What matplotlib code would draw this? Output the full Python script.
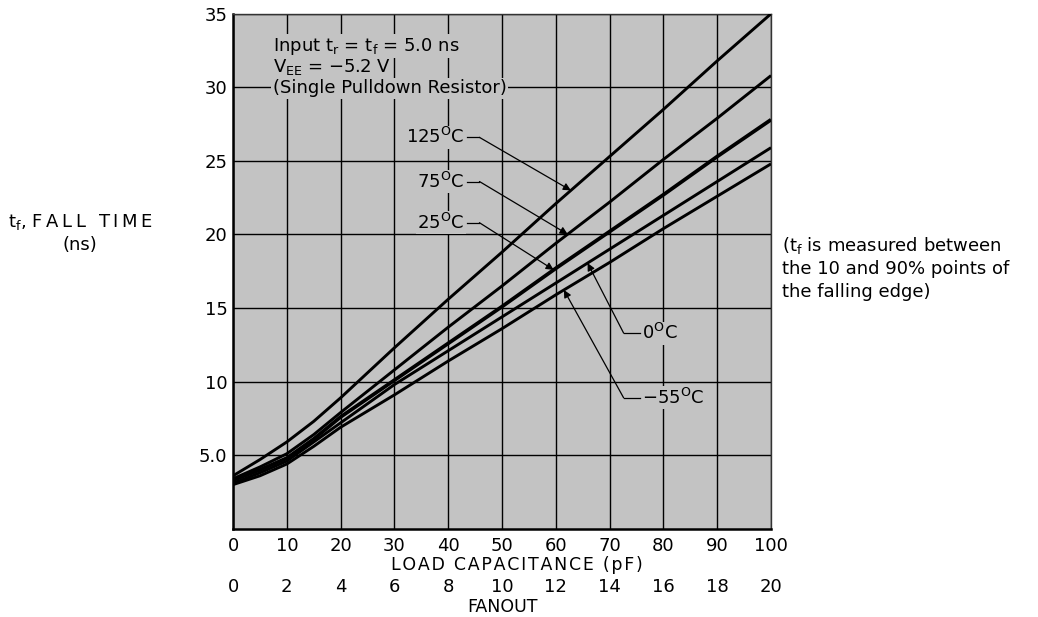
import numpy as np
import matplotlib
matplotlib.use("Agg")
import matplotlib.pyplot as plt

# load capacitance (pF) and fall time (ns) for each temperature
cap_pf = [0, 5, 10, 15, 20, 30, 40, 50, 60, 70, 80, 90, 100]
tf_125 = [3.6, 4.7, 5.9, 7.3, 8.9, 12.3, 15.6, 18.8, 22.1, 25.3, 28.5, 31.8, 35.0]
tf_75 = [3.4, 4.2, 5.1, 6.4, 7.9, 10.8, 13.7, 16.5, 19.4, 22.2, 25.1, 27.9, 30.8]
tf_25 = [3.3, 4.0, 4.8, 6.1, 7.6, 10.1, 12.6, 15.1, 17.7, 20.2, 22.7, 25.3, 27.8]
tf_0 = [3.1, 3.8, 4.6, 5.9, 7.2, 9.8, 12.1, 14.4, 16.7, 19.0, 21.3, 23.6, 25.9]
tf_m55 = [3.0, 3.6, 4.4, 5.6, 6.9, 9.1, 11.4, 13.6, 15.9, 18.1, 20.4, 22.6, 24.8]

x_ticks = [0, 10, 20, 30, 40, 50, 60, 70, 80, 90, 100]
y_ticks = [5, 10, 15, 20, 25, 30, 35]
y_tick_labels = ["5.0", "10", "15", "20", "25", "30", "35"]
fanout_ticks = [0, 2, 4, 6, 8, 10, 12, 14, 16, 18, 20]

BG = "#c3c3c3"
plt.rcParams["font.family"] = ["DejaVu Sans"]


def spaced(s, gap):
    # stretch a caption by putting a narrow space between its letters
    return gap.join(s)


fig = plt.figure(figsize=(10.38, 6.17), dpi=100)
ax = fig.add_axes([0.2245, 0.143, 0.5183, 0.8347])
ax.set_facecolor(BG)

ax.set_xlim(0, 100)
ax.set_ylim(0, 35)
ax.set_xticks(x_ticks)
ax.set_yticks(y_ticks)
ax.set_yticklabels(y_tick_labels)
ax.tick_params(length=0, labelsize=13, pad=4)
ax.tick_params(axis="x", pad=6)
ax.grid(True, color="black", lw=1.0)
ax.set_axisbelow(True)
for side in ["left", "bottom"]:
    ax.spines[side].set_linewidth(1.8)
for side in ["top", "right"]:
    ax.spines[side].set_linewidth(1.0)
    ax.spines[side].set_color("#333333")

# the curves
curves = [(tf_125, 2.1), (tf_75, 2.1), (tf_25, 2.7), (tf_0, 2.1), (tf_m55, 2.1)]
for ys, lw in curves:
    ax.plot(cap_pf, ys, color="black", lw=lw, solid_capstyle="butt", zorder=3)

label_box = dict(facecolor=BG, edgecolor="none", pad=1.0)

# conditions block in the upper left corner
ax.text(7.4, 32.8, r"Input t$_\mathregular{r}$ = t$_\mathregular{f}$ = 5.0 ns",
        fontsize=13, va="center", ha="left", bbox=label_box, zorder=4)
ax.text(7.4, 31.35, r"V$_\mathregular{EE}$ = $-$5.2 V",
        fontsize=13, va="center", ha="left", bbox=label_box, zorder=4)
ax.text(7.4, 29.95, "(Single Pulldown Resistor)",
        fontsize=13, va="center", ha="left", bbox=label_box, zorder=4)

arrow = dict(arrowstyle="-|>", color="black", lw=0.9, mutation_scale=11,
             shrinkA=0, shrinkB=0)


def temp_label(text, ys, label_y, tip_x, side):
    tip_y = np.interp(tip_x, cap_pf, ys)
    if side == "left":
        # text to the left, leader runs right then down to the curve
        ax.text(43.0, label_y, text, fontsize=13, ha="right", va="center",
                bbox=label_box, zorder=4)
        ax.plot([43.4, 45.8], [label_y, label_y], color="black", lw=0.9, zorder=4)
        ax.annotate("", xy=(tip_x, tip_y), xytext=(45.8, label_y),
                    arrowprops=arrow, zorder=4)
    else:
        # text to the right, leader runs left then up to the curve
        ax.text(76.0, label_y, text, fontsize=13, ha="left", va="center",
                bbox=label_box, zorder=4)
        ax.plot([72.6, 75.6], [label_y, label_y], color="black", lw=0.9, zorder=4)
        ax.annotate("", xy=(tip_x, tip_y), xytext=(72.6, label_y),
                    arrowprops=arrow, zorder=4)


temp_label(r"125$^\mathregular{O}$C", tf_125, 26.6, 62.8, "left")
temp_label(r"75$^\mathregular{O}$C", tf_75, 23.6, 62.2, "left")
temp_label(r"25$^\mathregular{O}$C", tf_25, 20.8, 59.6, "left")
temp_label(r"0$^\mathregular{O}$C", tf_0, 13.3, 65.9, "right")
temp_label(r"$-$55$^\mathregular{O}$C", tf_m55, 8.9, 61.5, "right")

# second scale for fanout (5 pF per load)
sec = ax.secondary_xaxis(-0.095, functions=(lambda c: c / 5.0, lambda f: f * 5.0))
sec.set_xticks(fanout_ticks)
sec.tick_params(length=0, labelsize=13, pad=0)
sec.spines["bottom"].set_visible(False)

ax.text(0.528, -0.07, spaced("LOAD CAPACITANCE (pF)", "\u200a"), transform=ax.transAxes,
        ha="center", va="center", fontsize=12.5)
ax.text(0.5, -0.152, "FANOUT", transform=ax.transAxes,
        ha="center", va="center", fontsize=12.5)

fig.text(80 / 1038, 1 - 222 / 617,
         r"t$_\mathregular{f}$, " + spaced("FALL TIME", "\u2009"),
         ha="center", va="center", fontsize=13)
fig.text(80 / 1038, 1 - 245 / 617, "(ns)", ha="center", va="center", fontsize=13)

fig.text(782 / 1038, 1 - 268 / 617,
         "(t$_\\mathregular{f}$ is measured between\nthe 10 and 90% points of\nthe falling edge)",
         ha="left", va="center", fontsize=13, linespacing=1.3)

fig.savefig("out.png", dpi=100, facecolor="white")
